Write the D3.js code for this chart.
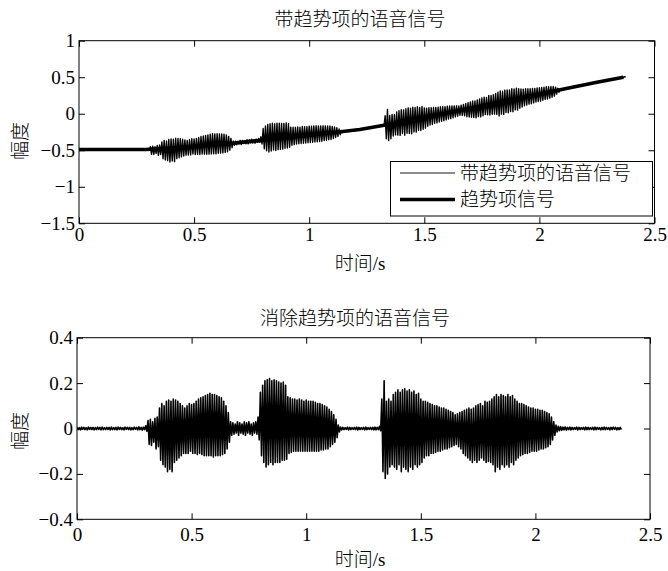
<!DOCTYPE html>
<html><head><meta charset="utf-8">
<script src="https://cdn.jsdelivr.net/npm/d3@7"></script>
<style>
body{margin:0;background:#fff}
text{font-family:'Liberation Serif','Times New Roman','Noto Sans CJK SC',serif;fill:#000;font-weight:300}
</style>
</head><body><svg id="c" width="668" height="571"></svg>
<script>
// ---------- data ----------
const frameStep = 0.01; // seconds between frames
const speechPeak = [
0.005,0.004,0.006,0.005,0.004,0.006,0.005,0.005,0.004,0.006,
0.005,0.006,0.004,0.005,0.005,0.006,0.004,0.005,0.006,0.005,
0.004,0.006,0.005,0.005,0.004,0.006,0.005,0.007,0.005,0.006,
0.012,0.035,0.04,0.03,0.045,0.05,0.09,0.11,0.10,0.12,
0.125,0.12,0.13,0.125,0.12,0.11,0.10,0.09,0.10,0.11,
0.105,0.11,0.12,0.13,0.135,0.14,0.145,0.15,0.155,0.15,
0.15,0.145,0.14,0.135,0.12,0.10,0.07,0.03,0.025,0.02,
0.03,0.025,0.02,0.03,0.025,0.03,0.02,0.025,0.03,0.05,
0.16,0.19,0.21,0.215,0.22,0.21,0.215,0.21,0.205,0.20,
0.205,0.19,0.14,0.135,0.13,0.13,0.125,0.13,0.125,0.12,
0.125,0.12,0.12,0.12,0.115,0.11,0.11,0.105,0.10,0.095,
0.085,0.075,0.06,0.04,0.015,0.006,0.005,0.004,0.006,0.005,
0.004,0.005,0.006,0.005,0.004,0.005,0.006,0.004,0.005,0.005,
0.006,0.005,0.01,0.13,0.21,0.12,0.13,0.12,0.15,0.16,
0.17,0.16,0.17,0.175,0.165,0.17,0.16,0.165,0.15,0.155,
0.13,0.12,0.12,0.115,0.11,0.105,0.10,0.10,0.095,0.09,
0.09,0.085,0.08,0.075,0.07,0.06,0.065,0.07,0.075,0.08,
0.085,0.09,0.085,0.09,0.10,0.105,0.11,0.10,0.12,0.115,
0.12,0.13,0.14,0.15,0.14,0.15,0.145,0.14,0.15,0.14,
0.145,0.13,0.12,0.11,0.11,0.105,0.10,0.095,0.09,0.09,
0.085,0.085,0.08,0.08,0.075,0.07,0.065,0.05,0.03,0.015,
0.01,0.008,0.006,0.007,0.005,0.006,0.005,0.004,0.006,0.005,
0.004,0.005,0.006,0.005,0.004,0.005,0.006,0.005,0.004,0.005,
0.006,0.005,0.004,0.005,0.006,0.005,0.004,0.005
];
const speechTrough = [
-0.005,-0.006,-0.004,-0.005,-0.006,-0.004,-0.005,-0.006,-0.005,-0.004,
-0.006,-0.005,-0.005,-0.004,-0.006,-0.005,-0.005,-0.006,-0.004,-0.005,
-0.006,-0.004,-0.005,-0.006,-0.005,-0.004,-0.006,-0.005,-0.007,-0.005,
-0.012,-0.07,-0.075,-0.06,-0.09,-0.08,-0.14,-0.16,-0.17,-0.19,
-0.18,-0.19,-0.15,-0.14,-0.13,-0.12,-0.11,-0.11,-0.11,-0.10,
-0.11,-0.11,-0.115,-0.11,-0.115,-0.12,-0.12,-0.12,-0.12,-0.125,
-0.12,-0.12,-0.12,-0.115,-0.11,-0.09,-0.06,-0.03,-0.025,-0.02,
-0.03,-0.02,-0.025,-0.03,-0.02,-0.025,-0.03,-0.02,-0.025,-0.05,
-0.12,-0.15,-0.17,-0.16,-0.15,-0.16,-0.15,-0.15,-0.15,-0.14,
-0.14,-0.135,-0.11,-0.105,-0.10,-0.10,-0.10,-0.10,-0.10,-0.10,
-0.10,-0.10,-0.10,-0.10,-0.10,-0.10,-0.095,-0.095,-0.09,-0.09,
-0.08,-0.07,-0.06,-0.04,-0.015,-0.006,-0.005,-0.004,-0.006,-0.005,
-0.004,-0.005,-0.006,-0.005,-0.004,-0.006,-0.005,-0.004,-0.005,-0.006,
-0.006,-0.005,-0.01,-0.19,-0.22,-0.20,-0.17,-0.16,-0.17,-0.18,
-0.16,-0.19,-0.17,-0.18,-0.19,-0.17,-0.18,-0.16,-0.17,-0.16,
-0.15,-0.13,-0.12,-0.12,-0.11,-0.11,-0.105,-0.10,-0.10,-0.095,
-0.09,-0.09,-0.085,-0.08,-0.075,-0.07,-0.08,-0.09,-0.11,-0.12,
-0.13,-0.14,-0.15,-0.14,-0.15,-0.14,-0.13,-0.14,-0.15,-0.145,
-0.15,-0.16,-0.19,-0.17,-0.18,-0.16,-0.17,-0.16,-0.17,-0.15,
-0.16,-0.14,-0.13,-0.12,-0.115,-0.11,-0.11,-0.105,-0.10,-0.10,
-0.10,-0.095,-0.09,-0.09,-0.085,-0.08,-0.07,-0.05,-0.03,-0.015,
-0.01,-0.008,-0.006,-0.007,-0.005,-0.006,-0.005,-0.004,-0.006,-0.005,
-0.004,-0.006,-0.005,-0.005,-0.004,-0.006,-0.005,-0.004,-0.006,-0.005,
-0.005,-0.004,-0.006,-0.005,-0.004,-0.006,-0.005,-0.005
];
const trendTime  = [0, 0.29, 0.5, 0.666, 0.9, 1.1, 1.22, 1.35, 1.5, 1.75, 2.0, 2.25, 2.365];
const trendValue = [-0.49, -0.49, -0.45, -0.405, -0.33, -0.26, -0.215, -0.145, -0.05, 0.11, 0.27, 0.43, 0.50];

const xTicks = [0, 0.5, 1, 1.5, 2, 2.5];
const xTickLabels = ["0", "0.5", "1", "1.5", "2", "2.5"];
const yTicksTop = [-1.5, -1, -0.5, 0, 0.5, 1];
const yTickLabelsTop = ["\u22121.5", "\u22121", "\u22120.5", "0", "0.5", "1"];
const yTicksBottom = [-0.4, -0.2, 0, 0.2, 0.4];
const yTickLabelsBottom = ["\u22120.4", "\u22120.2", "0", "0.2", "0.4"];
const titles = ["带趋势项的语音信号", "消除趋势项的语音信号"];
const xLabel = "时间/s";
const yLabel = "幅度";
const legendLabels = ["带趋势项的语音信号", "趋势项信号"];

// ---------- drawing ----------
const svg = d3.select("#c");
svg.append("rect").attr("width", 668).attr("height", 571).attr("fill", "#fff");
const FS = 19;

const trendAt = d3.scaleLinear().domain(trendTime).range(trendValue);
const speechPts = [];
speechPeak.forEach((p, i) => {
  const t = i * frameStep;
  speechPts.push([t, p]);
  speechPts.push([t + frameStep / 2, speechTrough[i]]);
});
const trendPts = trendTime.map((t, i) => [t, trendValue[i]]);
const withTrendPts = speechPts.map(([t, v]) => [t, v + trendAt(t)]);

function panel(o) {
  const x = d3.scaleLinear().domain([0, 2.5]).range([o.l, o.r]);
  const y = d3.scaleLinear().domain(o.yDom).range([o.b, o.t]);
  const g = svg.append("g");
  const clipId = "clip" + o.id;
  svg.append("clipPath").attr("id", clipId).append("rect")
    .attr("x", o.l).attr("y", o.t).attr("width", o.r - o.l).attr("height", o.b - o.t);
  const line = d3.line().x(d => x(d[0])).y(d => y(d[1]));
  const plot = g.append("g").attr("clip-path", `url(#${clipId})`);
  o.series.forEach(s => {
    plot.append("path").attr("d", line(s.pts)).attr("fill", "none")
      .attr("stroke", "#000").attr("stroke-width", s.w).attr("stroke-linejoin", "round");
  });
  const yLab = o.yLabels;
  const axB = d3.axisBottom(x).tickValues(xTicks).tickFormat((d, i) => xTickLabels[i])
    .tickSizeInner(-6).tickSizeOuter(0).tickPadding(o.xPad);
  const axT = d3.axisTop(x).tickValues(xTicks).tickFormat("").tickSizeInner(-6).tickSizeOuter(0);
  const axL = d3.axisLeft(y).tickValues(o.yTicks).tickFormat((d, i) => yLab[i])
    .tickSizeInner(-6).tickSizeOuter(0).tickPadding(4);
  const axR = d3.axisRight(y).tickValues(o.yTicks).tickFormat("").tickSizeInner(-6).tickSizeOuter(0);
  const style = sel => {
    sel.select(".domain").remove();
    sel.selectAll("line").attr("stroke", "#000");
    sel.selectAll("text").attr("font-size", FS).attr("fill", "#000");
  };
  g.append("g").attr("transform", `translate(0,${o.b})`).call(axB).call(style);
  g.append("g").attr("transform", `translate(0,${o.t})`).call(axT).call(style);
  g.append("g").attr("transform", `translate(${o.l},0)`).call(axL).call(style);
  g.append("g").attr("transform", `translate(${o.r},0)`).call(axR).call(style);
  g.append("rect").attr("x", o.l).attr("y", o.t).attr("width", o.r - o.l).attr("height", o.b - o.t)
    .attr("fill", "none").attr("stroke", "#000").attr("stroke-width", 1);
  g.append("text").attr("x", o.titleX).attr("y", o.titleY).attr("text-anchor", "middle")
    .attr("font-size", FS).text(o.title);
  g.append("text").attr("x", 360).attr("y", o.xLabY).attr("text-anchor", "middle")
    .attr("font-size", FS).text(xLabel);
  g.append("text").attr("transform", `translate(27,${o.yLabY}) rotate(-90)`).attr("text-anchor", "middle")
    .attr("font-size", FS).text(yLabel);
  return {x, y, g};
}

const topPanel = panel({id: 1, l: 79, r: 654.5, t: 40.7, b: 223.3, yDom: [-1.5, 1],
  yTicks: yTicksTop, yLabels: yTickLabelsTop, xPad: 4, title: titles[0], titleX: 360, titleY: 26,
  xLabY: 270, yLabY: 141,
  series: [{pts: withTrendPts, w: 1.4}, {pts: trendPts, w: 3.6}]});

const botPanel = panel({id: 2, l: 77, r: 650, t: 337.7, b: 519.3, yDom: [-0.4, 0.4],
  yTicks: yTicksBottom, yLabels: yTickLabelsBottom, xPad: 8, title: titles[1], titleX: 355, titleY: 325,
  xLabY: 566, yLabY: 431,
  series: [{pts: speechPts, w: 1.6}]});

// legend
const lg = topPanel.g.append("g");
lg.append("rect").attr("x", 390.5).attr("y", 161.5).attr("width", 262).attr("height", 54.5)
  .attr("fill", "#fff").attr("stroke", "#000").attr("stroke-width", 1);
const lgW = [0.9, 3.6];
[173, 199.5].forEach((yy, i) => {
  lg.append("line").attr("x1", 400).attr("x2", 455).attr("y1", yy).attr("y2", yy)
    .attr("stroke", "#000").attr("stroke-width", lgW[i]);
  lg.append("text").attr("x", 460).attr("y", yy).attr("dy", "0.36em").attr("font-size", FS)
    .text(legendLabels[i]);
});
</script></body></html>
